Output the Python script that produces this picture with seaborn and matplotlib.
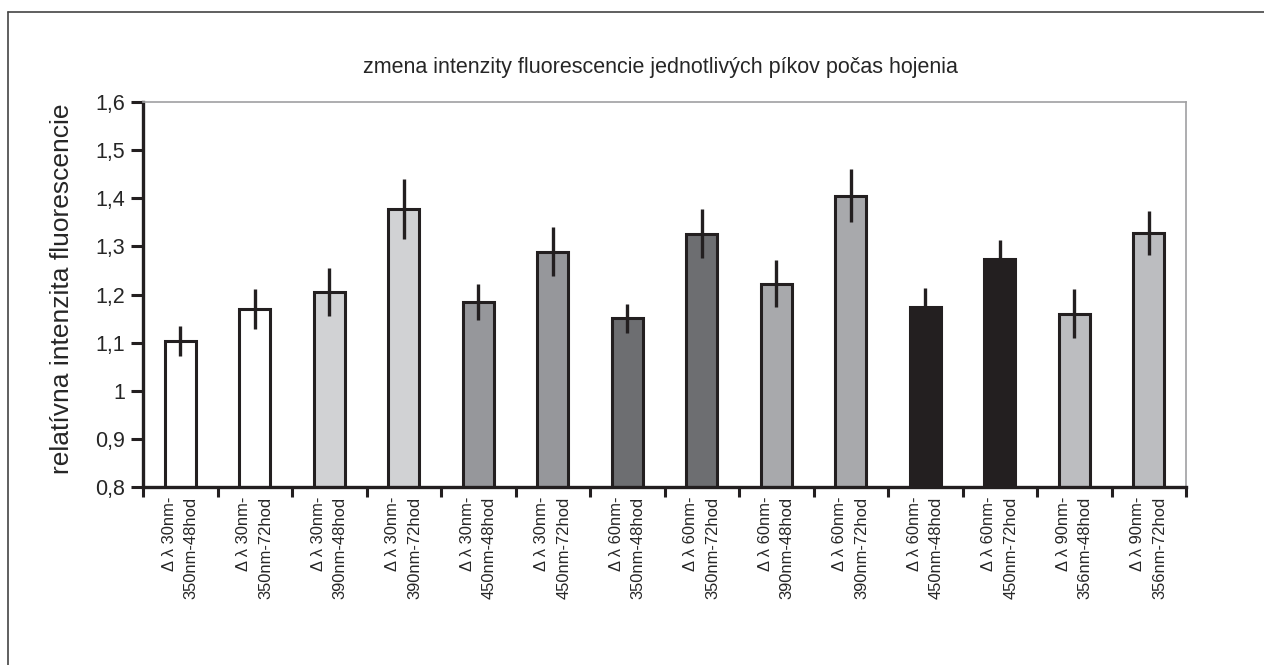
import matplotlib
matplotlib.use("Agg")
import matplotlib.pyplot as plt
import seaborn as sns
from matplotlib.lines import Line2D
from matplotlib.ticker import FixedLocator, FuncFormatter

# data
labels = [
    "\u0394 \u03bb 30nm-\n350nm-48hod", "\u0394 \u03bb 30nm-\n350nm-72hod",
    "\u0394 \u03bb 30nm-\n390nm-48hod", "\u0394 \u03bb 30nm-\n390nm-72hod",
    "\u0394 \u03bb 30nm-\n450nm-48hod", "\u0394 \u03bb 30nm-\n450nm-72hod",
    "\u0394 \u03bb 60nm-\n350nm-48hod", "\u0394 \u03bb 60nm-\n350nm-72hod",
    "\u0394 \u03bb 60nm-\n390nm-48hod", "\u0394 \u03bb 60nm-\n390nm-72hod",
    "\u0394 \u03bb 60nm-\n450nm-48hod", "\u0394 \u03bb 60nm-\n450nm-72hod",
    "\u0394 \u03bb 90nm-\n356nm-48hod", "\u0394 \u03bb 90nm-\n356nm-72hod",
]
values = [1.104, 1.170, 1.205, 1.378, 1.185, 1.289, 1.151,
          1.326, 1.222, 1.405, 1.174, 1.274, 1.160, 1.328]
errors = [0.031, 0.041, 0.050, 0.062, 0.037, 0.051, 0.030,
          0.051, 0.049, 0.055, 0.040, 0.040, 0.051, 0.045]
colors = ["#ffffff", "#ffffff", "#d1d2d4", "#d1d2d4", "#96979b", "#96979b",
          "#6d6e71", "#6d6e71", "#a8a9ac", "#a8a9ac", "#231f20", "#231f20",
          "#bcbdc0", "#bcbdc0"]
yticks = [0.8, 0.9, 1.0, 1.1, 1.2, 1.3, 1.4, 1.5, 1.6]

sns.set_style("white")
plt.rcParams["font.family"] = ["Liberation Sans", "DejaVu Sans"]

dark = "#231f20"
fig = plt.figure(figsize=(12.64, 6.65), dpi=100)
ax = fig.add_axes([143 / 1264, 1 - 487 / 665, (1186 - 143) / 1264, (487 - 102) / 665])

sns.barplot(x=labels, y=values, hue=labels, palette=colors, legend=False,
            width=0.42, edgecolor=dark, linewidth=2.2, saturation=1, ax=ax)
ax.errorbar(x=range(len(values)), y=values, yerr=errors, fmt="none",
            ecolor=dark, elinewidth=2.4, capsize=0, zorder=5)

ax.set_ylim(0.8, 1.6)
ax.set_xlim(-0.5, len(values) - 0.5)
ax.set_yticks(yticks)
ax.yaxis.set_major_formatter(FuncFormatter(lambda v, p: f"{v:g}".replace(".", ",")))
ax.tick_params(axis="y", direction="out", length=9, width=2.2, color=dark,
               labelsize=15.5, pad=4, left=True)

ax.set_xticks(range(len(values)))
ax.set_xticklabels(labels, rotation=90, fontsize=11.9, ha="center", va="top",
                   multialignment="right", linespacing=1.6)
ax.tick_params(axis="x", which="major", length=0, pad=7)
ax.xaxis.set_minor_locator(FixedLocator([i - 0.5 for i in range(len(values) + 1)]))
ax.tick_params(axis="x", which="minor", direction="out", length=7, width=2.2,
               color=dark, bottom=True)

for side in ["left", "bottom"]:
    ax.spines[side].set_color(dark)
    ax.spines[side].set_linewidth(2.4)
for side in ["top", "right"]:
    ax.spines[side].set_color("#a0a0a2")
    ax.spines[side].set_linewidth(1.2)

ax.set_ylabel("relatívna intenzita fluorescencie", fontsize=19)
ax.yaxis.set_label_coords(-0.066, 0.515)
ax.set_xlabel("")
fig.text(0.5225, 1 - 68 / 665, "zmena intenzity fluorescencie jednotlivých píkov počas hojenia",
         ha="center", va="center", fontsize=15.5)

# thin frame around the whole picture (only top and left are visible)
fig.add_artist(Line2D([8 / 1264, 1.0], [1 - 12 / 665, 1 - 12 / 665],
                      transform=fig.transFigure, color="#444444", linewidth=1.2))
fig.add_artist(Line2D([8 / 1264, 8 / 1264], [0.0, 1 - 12 / 665],
                      transform=fig.transFigure, color="#444444", linewidth=1.2))

fig.savefig("out.png", dpi=100)
